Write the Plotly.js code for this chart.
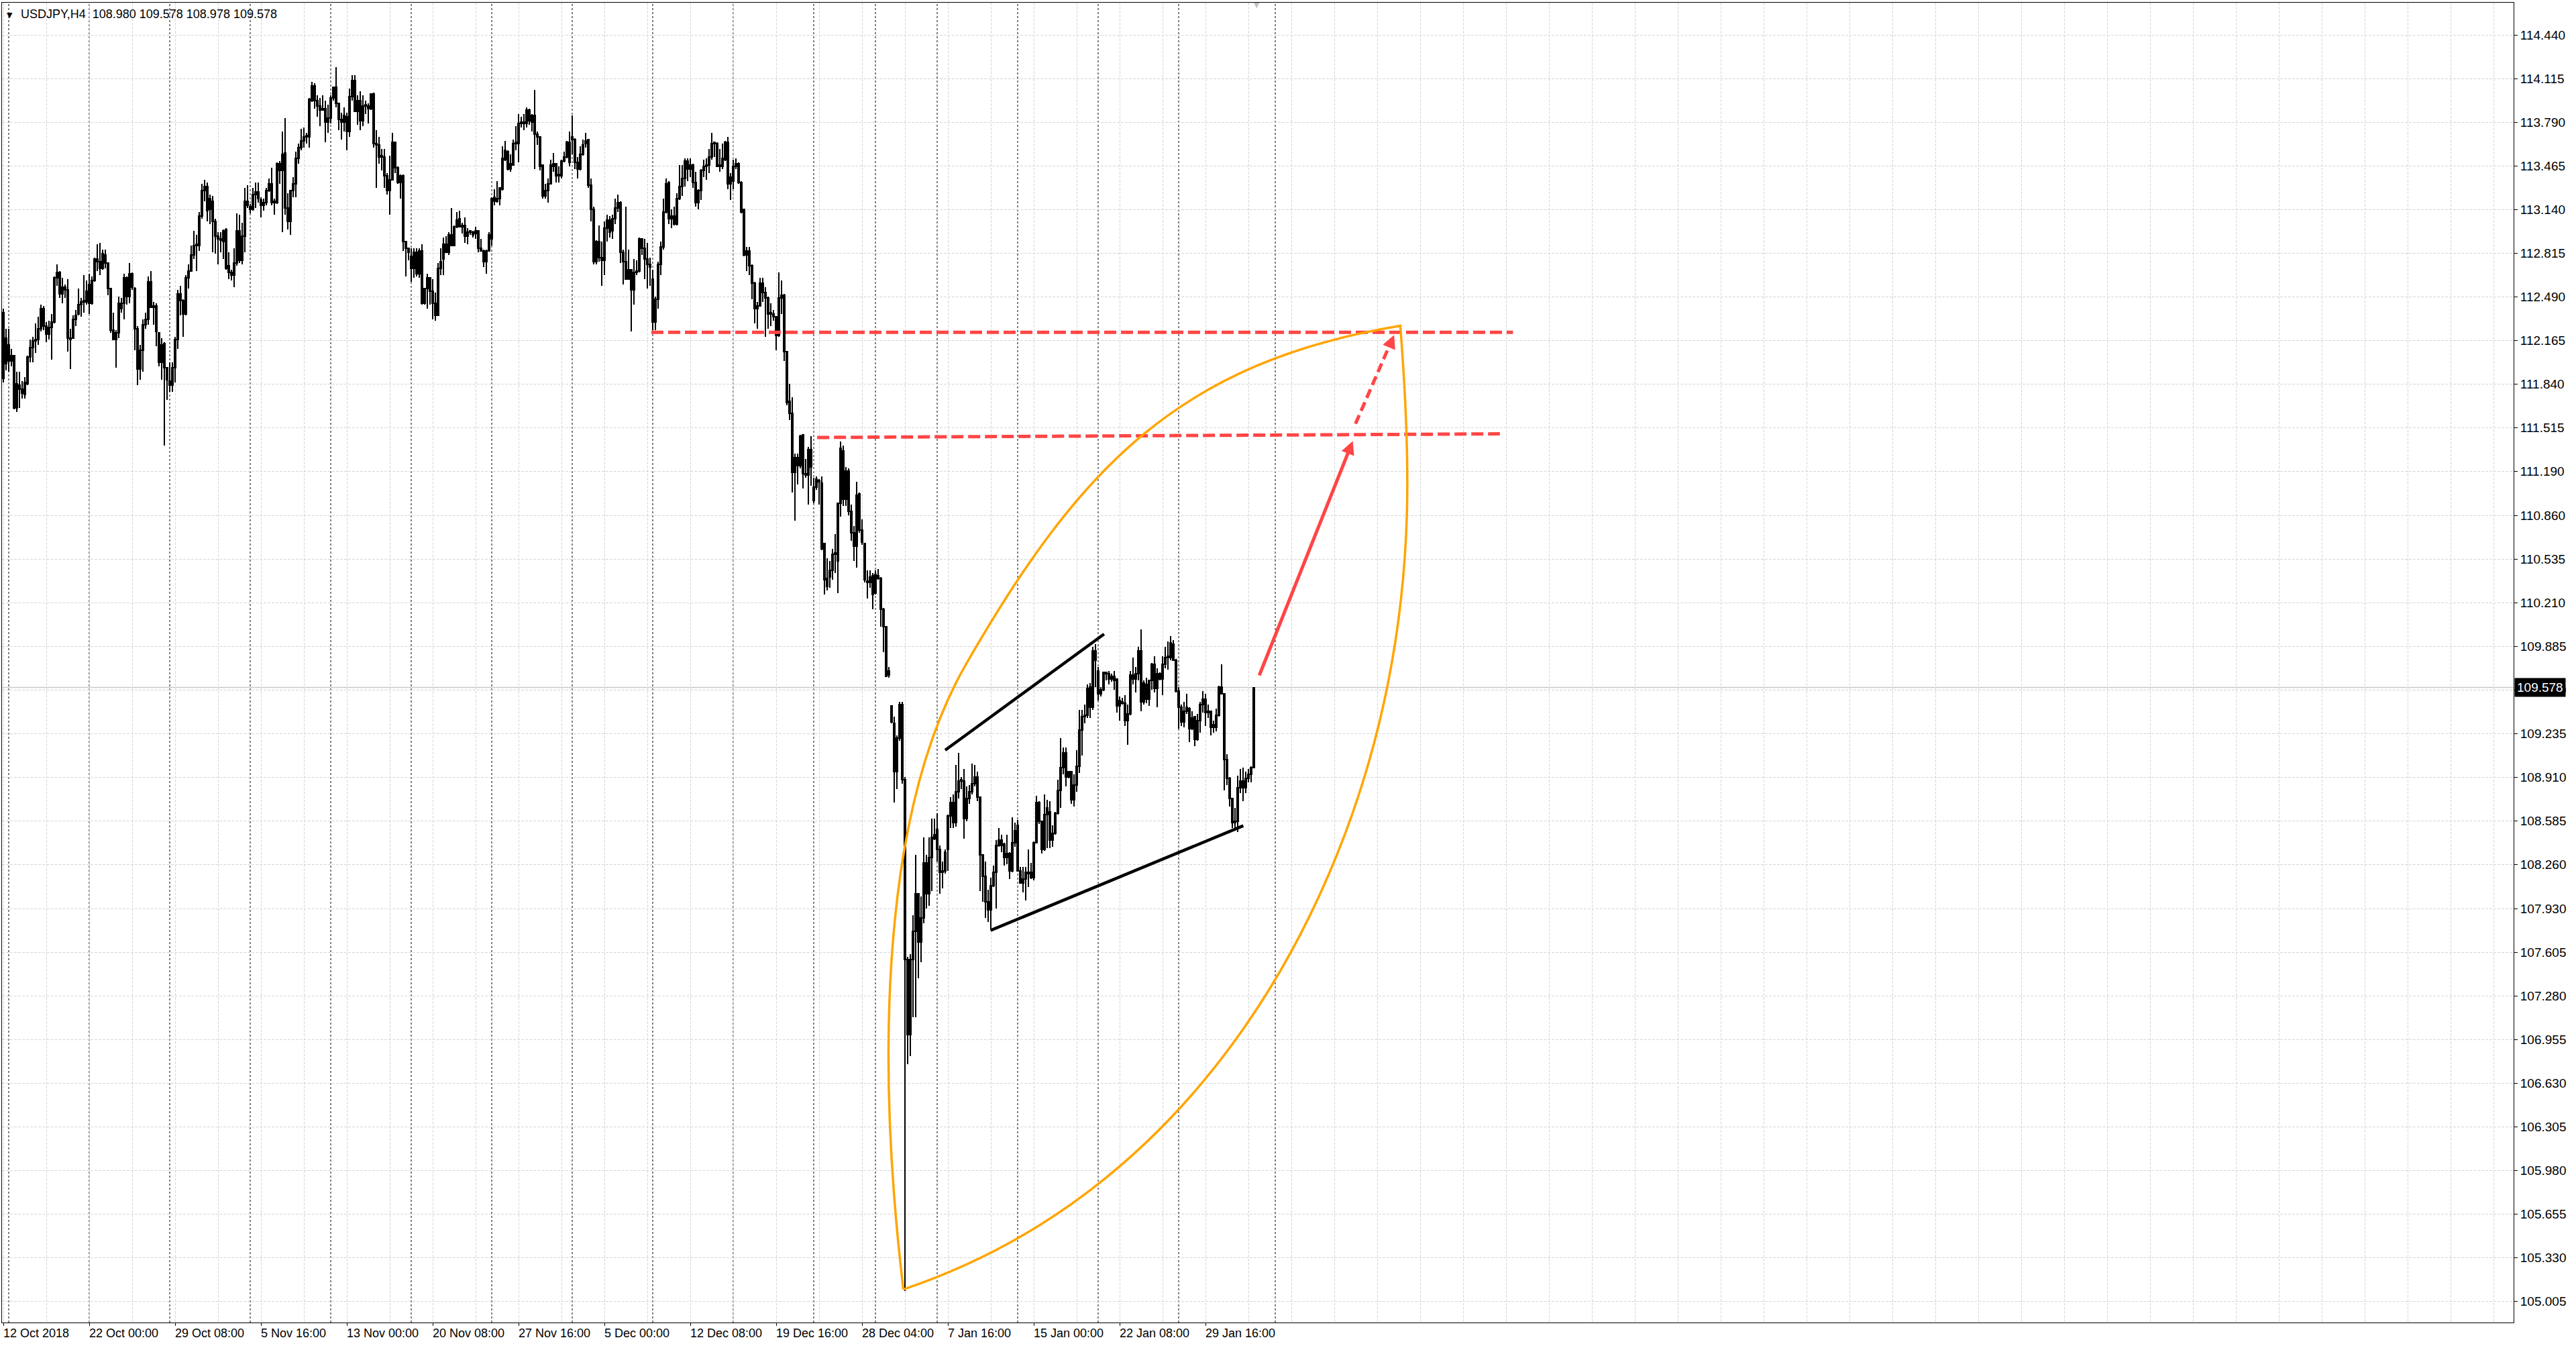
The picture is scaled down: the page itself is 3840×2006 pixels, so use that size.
<!DOCTYPE html>
<html>
<head>
<meta charset="utf-8">
<title>USDJPY,H4</title>
<script src="https://cdn.plot.ly/plotly-3.0.1.min.js"></script>
<style>
  html, body { margin: 0; padding: 0; background: #fff; }
  #chart { width: 3840px; height: 2006px; }
  /* MT4 draws 1px lines without anti-aliasing */
  #chart .boxlayer path, #chart .gridlayer path, #chart .layer-between path { shape-rendering: crispEdges; }
</style>
</head>
<body>
<div id="chart"></div>
<script>
// USDJPY H4 bars, 12 Oct 2018 16:00 -> 1 Feb 2019 20:00 (bar index 0..466)
const opens = [
  112.37,111.99,112.13,112.01,112.05,111.66,111.83,111.80,111.76,111.84,
  112.04,112.11,112.16,112.17,112.25,112.40,112.27,112.21,112.26,112.30,
  112.63,112.67,112.51,112.56,112.54,112.18,112.18,112.32,112.36,112.43,
  112.45,112.45,112.58,112.44,112.61,112.77,112.75,112.70,112.80,112.74,
  112.55,112.24,112.17,112.22,112.40,112.44,112.63,112.49,112.66,112.55,
  112.25,111.95,112.09,112.28,112.32,112.60,112.42,112.42,112.22,112.00,
  112.14,111.96,111.86,111.83,111.96,112.17,112.51,112.46,112.36,112.63,
  112.68,112.80,112.88,112.87,113.09,113.28,113.31,113.22,113.20,113.05,
  112.94,112.92,112.90,112.99,112.72,112.67,112.65,112.74,112.98,112.76,
  112.94,113.20,113.16,113.14,113.25,113.27,113.21,113.17,113.19,113.28,
  113.33,113.19,113.19,113.48,113.43,113.56,113.15,113.05,113.28,113.33,
  113.52,113.60,113.65,113.68,113.68,113.95,114.06,113.95,113.91,113.89,
  113.89,113.79,113.82,113.97,114.05,113.93,113.81,113.79,113.83,113.72,
  113.98,114.10,113.87,113.95,113.80,113.91,113.91,113.89,114.00,113.63,
  113.62,113.54,113.53,113.39,113.28,113.36,113.64,113.45,113.34,113.39,
  112.90,112.85,112.79,112.70,112.82,112.66,112.83,112.44,112.55,112.63,
  112.53,112.44,112.35,112.70,112.77,112.88,112.82,112.95,112.87,113.01,
  113.07,113.02,113.02,112.94,112.97,112.97,112.96,112.98,112.85,112.83,
  112.75,112.83,112.92,113.23,113.20,113.22,113.29,113.51,113.57,113.44,
  113.47,113.63,113.63,113.78,113.78,113.78,113.88,113.79,113.84,113.70,
  113.68,113.47,113.24,113.28,113.33,113.46,113.48,113.40,113.39,113.50,
  113.53,113.64,113.68,113.66,113.49,113.44,113.55,113.63,113.66,113.32,
  113.14,112.75,112.90,112.78,112.76,113.00,113.06,112.98,113.07,113.15,
  113.19,112.82,112.75,112.62,112.69,112.54,112.67,112.68,112.92,112.85,
  112.77,112.73,112.62,112.30,112.47,112.73,112.86,113.12,113.34,113.07,
  113.09,113.03,113.22,113.31,113.37,113.50,113.44,113.47,113.34,113.19,
  113.28,113.43,113.46,113.47,113.53,113.63,113.63,113.47,113.46,113.51,
  113.64,113.33,113.35,113.46,113.48,113.34,113.14,112.80,112.83,112.72,
  112.59,112.40,112.42,112.59,112.52,112.48,112.37,112.36,112.34,112.20,
  112.48,112.50,112.08,111.71,111.62,111.18,111.29,111.23,111.46,111.17,
  111.16,111.35,110.97,111.07,111.12,111.10,110.65,110.39,110.40,110.45,
  110.57,110.52,110.95,111.34,110.98,111.19,110.89,110.73,110.63,111.02,
  110.75,110.65,110.37,110.36,110.41,110.28,110.41,110.39,110.16,110.03,
  109.67,109.44,109.31,108.95,109.20,109.45,108.89,107.55,106.99,107.55,
  107.76,108.04,107.68,107.86,108.27,108.04,108.31,108.45,108.52,108.37,
  108.21,108.21,108.37,108.62,108.72,108.57,108.80,108.88,108.88,108.60,
  108.75,108.80,108.86,108.91,108.76,108.33,108.17,107.98,107.92,108.10,
  108.20,108.40,108.44,108.41,108.31,108.34,108.21,108.42,108.55,108.21,
  108.12,108.15,108.20,108.20,108.16,108.42,108.72,108.58,108.37,108.63,
  108.65,108.44,108.49,108.64,108.81,108.98,109.09,108.95,108.95,108.74,
  108.85,108.99,109.26,109.36,109.37,109.58,109.43,109.85,109.70,109.53,
  109.56,109.69,109.68,109.64,109.66,109.64,109.44,109.47,109.46,109.33,
  109.38,109.67,109.64,109.68,109.85,109.47,109.60,109.49,109.63,109.75,
  109.57,109.68,109.64,109.75,109.80,109.80,109.90,109.78,109.55,109.43,
  109.32,109.40,109.42,109.27,109.36,109.19,109.33,109.45,109.49,109.39,
  109.40,109.30,109.28,109.37,109.58,109.53,109.04,108.90,108.75,108.57,
  108.58,108.83,108.88,108.83,108.90,108.93,108.980
];
const highs = [
  112.40,112.25,112.25,112.10,112.05,111.93,111.93,111.86,111.89,112.05,
  112.17,112.19,112.29,112.34,112.43,112.42,112.30,112.31,112.36,112.64,
  112.73,112.68,112.63,112.58,112.62,112.25,112.35,112.39,112.55,112.48,
  112.65,112.61,112.66,112.64,112.78,112.88,112.89,112.84,112.84,112.74,
  112.55,112.37,112.24,112.49,112.48,112.66,112.64,112.74,112.67,112.56,
  112.27,112.13,112.32,112.37,112.64,112.68,112.45,112.44,112.22,112.18,
  112.15,111.96,112.00,112.00,112.19,112.54,112.57,112.47,112.65,112.73,
  112.87,112.98,112.95,113.12,113.33,113.36,113.34,113.25,113.24,113.07,
  112.97,112.97,112.99,113.00,112.82,112.69,112.85,113.11,113.10,113.04,
  113.30,113.32,113.18,113.30,113.34,113.34,113.23,113.22,113.30,113.37,
  113.45,113.22,113.49,113.50,113.72,113.82,113.26,113.28,113.38,113.57,
  113.63,113.74,113.75,113.71,113.97,114.09,114.08,113.99,113.97,113.99,
  113.95,113.92,113.99,114.05,114.20,113.93,113.86,113.90,113.86,114.04,
  114.14,114.14,113.99,114.02,113.99,113.95,113.93,114.00,114.01,113.73,
  113.68,113.59,113.59,113.41,113.54,113.71,113.64,113.46,113.40,113.40,
  112.90,112.85,112.85,112.85,112.85,112.85,112.88,112.55,112.66,112.63,
  112.62,112.52,112.74,112.85,112.93,112.94,112.97,113.15,113.02,113.12,
  113.13,113.04,113.08,113.00,112.98,112.98,113.01,112.98,112.92,112.84,
  112.84,112.97,113.23,113.29,113.35,113.30,113.61,113.65,113.58,113.55,
  113.66,113.76,113.85,113.83,113.85,113.90,113.89,113.85,114.03,113.72,
  113.68,113.47,113.33,113.37,113.51,113.56,113.48,113.46,113.51,113.57,
  113.65,113.72,113.84,113.67,113.53,113.61,113.66,113.71,113.66,113.37,
  113.16,112.91,113.02,112.90,113.05,113.10,113.09,113.10,113.22,113.25,
  113.20,112.84,113.16,112.84,112.69,112.77,112.76,112.93,112.92,112.92,
  112.89,112.78,112.69,112.49,112.75,112.90,113.22,113.37,113.35,113.14,
  113.16,113.26,113.47,113.47,113.52,113.52,113.52,113.48,113.42,113.29,
  113.44,113.51,113.52,113.59,113.71,113.64,113.64,113.59,113.63,113.65,
  113.68,113.41,113.51,113.52,113.49,113.35,113.14,112.86,112.86,112.73,
  112.60,112.45,112.63,112.63,112.56,112.49,112.44,112.39,112.34,112.67,
  112.61,112.51,112.08,111.84,111.74,111.32,111.32,111.46,111.46,111.28,
  111.37,111.45,111.14,111.15,111.13,111.15,110.65,110.54,110.52,110.61,
  110.72,110.95,111.41,111.38,111.22,111.21,110.94,110.78,111.11,111.03,
  110.83,110.65,110.45,110.45,110.43,110.45,110.46,110.40,110.17,110.03,
  109.73,109.44,109.36,109.22,109.47,109.47,108.91,107.57,107.59,107.88,
  108.33,108.04,108.02,108.46,108.33,108.46,108.60,108.60,108.64,108.40,
  108.28,108.37,108.63,108.76,108.78,109.00,109.09,108.91,108.97,108.84,
  108.85,109.01,109.00,108.95,108.76,108.33,108.28,108.07,108.16,108.25,
  108.44,108.53,108.48,108.42,108.48,108.35,108.61,108.57,108.59,108.24,
  108.24,108.24,108.37,108.27,108.43,108.77,108.73,108.58,108.78,108.74,
  108.73,108.55,108.65,108.89,109.20,109.13,109.13,108.95,108.95,108.93,
  109.11,109.41,109.41,109.45,109.60,109.61,109.88,109.90,109.73,109.58,
  109.69,109.69,109.70,109.68,109.70,109.64,109.51,109.50,109.52,109.45,
  109.70,109.80,109.73,109.88,110.01,109.63,109.65,109.63,109.76,109.81,
  109.72,109.69,109.81,109.88,109.92,109.96,109.93,109.79,109.58,109.45,
  109.47,109.53,109.43,109.40,109.36,109.38,109.47,109.55,109.53,109.45,
  109.40,109.33,109.42,109.59,109.75,109.53,109.08,108.91,108.75,108.68,
  108.92,108.97,108.98,108.95,108.97,108.99,109.578
];
const lows = [
  111.85,111.94,111.93,111.97,111.65,111.63,111.66,111.73,111.73,111.83,
  112.00,112.00,112.07,112.13,112.23,112.24,112.15,112.17,112.02,112.29,
  112.57,112.48,112.44,112.48,112.08,111.95,112.18,112.27,112.35,112.34,
  112.37,112.43,112.36,112.43,112.60,112.68,112.65,112.69,112.70,112.50,
  112.22,112.17,111.96,112.18,112.37,112.32,112.43,112.44,112.54,112.09,
  111.83,111.87,111.93,112.25,112.28,112.41,112.28,112.12,111.97,111.87,
  111.38,111.72,111.78,111.78,111.85,112.10,112.35,112.19,112.35,112.55,
  112.68,112.77,112.68,112.83,113.07,113.20,113.05,113.03,112.82,112.81,
  112.73,112.82,112.77,112.69,112.62,112.61,112.56,112.72,112.74,112.73,
  112.82,113.15,113.11,113.13,113.15,113.19,113.08,113.13,113.17,113.27,
  113.17,113.10,113.18,113.33,112.97,113.10,112.99,112.95,113.23,113.23,
  113.48,113.58,113.60,113.63,113.60,113.94,113.89,113.83,113.76,113.88,
  113.64,113.71,113.78,113.95,113.90,113.73,113.66,113.72,113.58,113.68,
  113.95,113.87,113.77,113.73,113.76,113.85,113.78,113.88,113.60,113.30,
  113.48,113.43,113.30,113.25,113.10,113.36,113.41,113.33,113.22,112.83,
  112.64,112.76,112.60,112.63,112.64,112.63,112.43,112.43,112.40,112.43,
  112.32,112.31,112.35,112.65,112.65,112.82,112.80,112.87,112.87,113.00,
  113.01,112.96,112.89,112.88,112.95,112.93,112.92,112.82,112.83,112.71,
  112.66,112.83,112.87,113.17,113.19,113.17,113.28,113.50,113.43,113.42,
  113.47,113.58,113.49,113.75,113.73,113.75,113.77,113.72,113.44,113.62,
  113.43,113.22,113.22,113.19,113.33,113.42,113.34,113.34,113.37,113.49,
  113.52,113.46,113.55,113.44,113.37,113.43,113.54,113.60,113.30,113.05,
  112.73,112.73,112.75,112.57,112.65,112.90,112.93,112.92,113.03,113.12,
  112.74,112.58,112.62,112.62,112.23,112.43,112.65,112.67,112.80,112.62,
  112.55,112.57,112.24,112.24,112.40,112.65,112.84,113.11,113.03,113.00,
  113.02,113.02,113.21,113.24,113.31,113.35,113.38,113.30,113.16,113.14,
  113.21,113.38,113.36,113.41,113.51,113.53,113.46,113.42,113.44,113.50,
  113.29,113.21,113.29,113.44,113.33,113.11,112.79,112.68,112.65,112.47,
  112.29,112.25,112.42,112.45,112.19,112.25,112.27,112.31,112.09,112.19,
  112.36,112.01,111.68,111.57,111.03,110.82,111.09,111.21,111.06,111.14,
  110.94,111.08,110.95,111.05,110.94,110.60,110.27,110.30,110.32,110.38,
  110.43,110.28,110.85,110.93,110.93,110.86,110.67,110.52,110.47,110.73,
  110.64,110.36,110.24,110.32,110.16,110.27,110.38,110.03,109.84,109.66,
  109.65,109.31,108.72,108.82,109.18,108.86,105.08,106.77,106.83,107.12,
  107.12,107.41,107.53,107.82,107.93,107.95,108.06,108.44,108.28,108.04,
  108.08,108.19,108.21,108.53,108.53,108.54,108.75,108.82,108.45,108.58,
  108.71,108.78,108.84,108.73,108.06,107.98,107.86,107.83,107.77,108.09,
  107.93,108.39,108.35,108.25,108.26,108.15,108.20,108.39,108.21,108.12,
  108.05,107.99,108.09,108.15,108.14,108.42,108.56,108.34,108.36,108.38,
  108.38,108.39,108.48,108.63,108.68,108.93,108.84,108.90,108.71,108.69,
  108.80,108.94,109.07,109.31,109.35,109.35,109.41,109.58,109.48,109.51,
  109.55,109.63,109.60,109.62,109.56,109.39,109.33,109.45,109.29,109.15,
  109.37,109.60,109.54,109.63,109.40,109.45,109.46,109.44,109.56,109.54,
  109.43,109.63,109.52,109.72,109.71,109.78,109.78,109.54,109.27,109.29,
  109.28,109.38,109.17,109.26,109.14,109.18,109.24,109.39,109.29,109.35,
  109.22,109.24,109.25,109.36,109.53,108.81,108.85,108.69,108.53,108.53,
  108.50,108.79,108.73,108.79,108.87,108.87,108.978
];
const closes = [
  111.88,112.18,112.01,112.05,111.66,111.84,111.80,111.77,111.85,112.04,
  112.11,112.16,112.17,112.25,112.40,112.27,112.21,112.26,112.30,112.63,
  112.67,112.51,112.56,112.54,112.18,112.17,112.32,112.35,112.43,112.45,
  112.46,112.53,112.44,112.61,112.77,112.75,112.70,112.81,112.74,112.55,
  112.24,112.17,112.22,112.44,112.44,112.63,112.49,112.66,112.56,112.25,
  111.95,112.09,112.28,112.32,112.60,112.41,112.41,112.23,112.00,112.13,
  111.96,111.87,111.83,111.96,112.17,112.51,112.46,112.36,112.63,112.68,
  112.80,112.87,112.87,113.09,113.28,113.31,113.13,113.14,113.05,112.94,
  112.92,112.91,112.98,112.70,112.67,112.65,112.74,112.98,112.76,112.94,
  113.20,113.17,113.14,113.25,113.27,113.22,113.17,113.19,113.28,113.33,
  113.19,113.20,113.48,113.43,113.55,113.15,113.05,113.28,113.33,113.52,
  113.60,113.65,113.68,113.69,113.96,114.06,113.95,113.91,113.88,113.88,
  113.79,113.82,113.97,114.05,113.93,113.81,113.79,113.84,113.72,113.98,
  114.10,113.87,113.95,113.80,113.91,113.92,113.89,114.00,113.63,113.62,
  113.53,113.53,113.39,113.28,113.36,113.64,113.45,113.34,113.39,112.90,
  112.85,112.82,112.70,112.82,112.66,112.83,112.44,112.55,112.63,112.53,
  112.44,112.35,112.70,112.75,112.88,112.82,112.95,112.87,113.01,113.06,
  113.01,113.01,112.94,112.97,112.98,112.95,112.98,112.85,112.83,112.75,
  112.83,112.95,113.22,113.20,113.22,113.30,113.52,113.58,113.44,113.48,
  113.63,113.64,113.78,113.79,113.79,113.88,113.80,113.84,113.70,113.68,
  113.46,113.24,113.28,113.33,113.47,113.48,113.39,113.39,113.50,113.53,
  113.64,113.49,113.66,113.49,113.44,113.55,113.62,113.65,113.32,113.14,
  112.75,112.90,112.78,112.76,113.00,113.06,112.97,113.07,113.15,113.19,
  112.82,112.75,112.62,112.69,112.54,112.67,112.68,112.92,112.85,112.77,
  112.73,112.71,112.30,112.47,112.73,112.86,113.12,113.33,113.07,113.09,
  113.03,113.22,113.31,113.37,113.50,113.44,113.47,113.34,113.19,113.28,
  113.43,113.46,113.47,113.53,113.63,113.64,113.46,113.46,113.52,113.64,
  113.33,113.38,113.46,113.48,113.34,113.12,112.80,112.83,112.72,112.59,
  112.40,112.42,112.59,112.52,112.48,112.36,112.36,112.34,112.20,112.48,
  112.50,112.08,111.70,111.62,111.18,111.29,111.23,111.45,111.17,111.16,
  111.35,111.22,111.07,111.13,111.11,110.61,110.38,110.33,110.45,110.57,
  110.58,110.95,111.36,110.98,111.19,110.89,110.73,110.63,111.01,110.75,
  110.66,110.38,110.36,110.40,110.27,110.42,110.39,110.16,110.03,109.66,
  109.70,109.32,108.95,109.20,109.45,108.89,107.55,106.99,107.55,107.76,
  108.04,107.68,107.86,108.27,108.04,108.31,108.46,108.48,108.37,108.20,
  108.20,108.35,108.62,108.72,108.57,108.80,108.88,108.89,108.60,108.75,
  108.80,108.86,108.91,108.76,108.33,108.17,107.98,107.92,108.10,108.20,
  108.40,108.44,108.40,108.31,108.34,108.21,108.42,108.51,108.21,108.12,
  108.15,108.20,108.19,108.16,108.42,108.72,108.58,108.37,108.63,108.68,
  108.44,108.49,108.64,108.81,108.98,109.09,108.91,108.91,108.74,108.85,
  108.99,109.26,109.36,109.37,109.57,109.43,109.85,109.78,109.53,109.56,
  109.69,109.68,109.64,109.66,109.63,109.44,109.48,109.46,109.33,109.38,
  109.67,109.64,109.68,109.85,109.47,109.61,109.49,109.63,109.75,109.57,
  109.68,109.64,109.75,109.80,109.81,109.91,109.78,109.55,109.43,109.32,
  109.40,109.43,109.27,109.35,109.19,109.33,109.45,109.49,109.39,109.40,
  109.28,109.28,109.37,109.58,109.53,109.04,108.90,108.75,108.57,108.58,
  108.83,108.88,108.83,108.90,108.93,108.98,109.578
];

// time axis labels (bar index -> text)
const labelBars = [0, 32, 64, 96, 128, 160, 192, 224, 256, 288, 320, 352, 384, 416, 448];
const labelTexts = ['12 Oct 2018', '22 Oct 00:00', '29 Oct 08:00', '5 Nov 16:00', '13 Nov 00:00',
  '20 Nov 08:00', '27 Nov 16:00', '5 Dec 00:00', '12 Dec 08:00', '19 Dec 16:00',
  '28 Dec 04:00', '7 Jan 16:00', '15 Jan 00:00', '22 Jan 08:00', '29 Jan 16:00'];
// week separators (bar index of Monday 00:00)
const weekStarts = [2, 32, 62, 92, 122, 152, 182, 212, 242, 272, 302, 325, 348, 378, 408, 438, 474];
// price scale labels
const priceTicks = [105.005, 105.330, 105.655, 105.980, 106.305, 106.630, 106.955, 107.280, 107.605,
  107.930, 108.260, 108.585, 108.910, 109.235, 109.560, 109.885, 110.210, 110.535, 110.860,
  111.190, 111.515, 111.840, 112.165, 112.490, 112.815, 113.140, 113.465, 113.790, 114.115, 114.440];

const FONT = 'Liberation Sans, Arial, sans-serif';
const GRID = '#d6d6d6';
const RED = '#ff4545';
const last = closes.length - 1;
const idx = opens.map((_, i) => i);

// Candles
const candles = {
  type: 'candlestick', x: idx, open: opens, high: highs, low: lows, close: closes,
  increasing: { line: { color: '#000', width: 1.5 }, fillcolor: '#fff' },
  decreasing: { line: { color: '#000', width: 1.5 }, fillcolor: '#000' },
  whiskerwidth: 0, hoverinfo: 'skip', showlegend: false
};

// Drawn objects (bar index, price)
const shapes = [];
weekStarts.forEach(b => shapes.push({
  type: 'line', xref: 'x', yref: 'paper', x0: b, x1: b, y0: 0, y1: 1,
  line: { color: '#000', width: 1, dash: '3px,3px' }, layer: 'between'
}));
// bid line
shapes.push({ type: 'line', xref: 'paper', yref: 'y', x0: 0, x1: 1, y0: closes[last], y1: closes[last],
  line: { color: '#c8c8c8', width: 1.5 }, layer: 'between' });
// resistance levels
shapes.push({ type: 'line', x0: 241.5, x1: 562.6, y0: 112.224, y1: 112.224,
  line: { color: RED, width: 5, dash: '18px,7px' } });
shapes.push({ type: 'line', x0: 303.3, x1: 557.7, y0: 111.44, y1: 111.467,
  line: { color: RED, width: 5, dash: '18px,7px' } });
// wedge lines
shapes.push({ type: 'line', x0: 351, x1: 410.2, y0: 109.11, y1: 109.975, line: { color: '#000', width: 4.5 } });
shapes.push({ type: 'line', x0: 367.9, x1: 462.1, y0: 107.767, y1: 108.547, line: { color: '#000', width: 4.5 } });
// orange leaf
shapes.push({ type: 'path', xref: 'x', yref: 'y',
  path: 'M335.4,105.092 C325,106.84 327.5,108.665 358.75,109.75 C401.25,111.23 438.75,112.0 520.6,112.273 ' +
        'C524.5,111.275 525.25,110.44 514.5,109.465 C496.25,107.80 442.25,105.81 335.4,105.092',
  line: { color: '#ffa500', width: 3.5 }, fillcolor: 'rgba(0,0,0,0)' });
// dashed projection shaft
shapes.push({ type: 'line', x0: 503.9, x1: 517.3, y0: 111.542, y1: 112.159,
  line: { color: RED, width: 5, dash: '14px,7px' } });

const annotations = [];
labelBars.forEach((b, k) => annotations.push({
  x: b, xref: 'x', y: 0, yref: 'paper', yanchor: 'top', xanchor: 'left', yshift: -4, xshift: -2,
  text: labelTexts[k], showarrow: false, font: { family: FONT, size: 18, color: '#000' }
}));
// header
annotations.push({ x: 0, xref: 'paper', y: 1, yref: 'paper', xanchor: 'left', yanchor: 'top', xshift: 5, yshift: -10,
  text: '▼', showarrow: false, font: { family: 'DejaVu Sans', size: 11, color: '#000' } });
annotations.push({ x: 0, xref: 'paper', y: 1, yref: 'paper', xanchor: 'left', yanchor: 'top', xshift: 26, yshift: -5,
  text: 'USDJPY,H4  ' + [opens[last], highs[last], lows[last], closes[last]].map(v => v.toFixed(3)).join(' '),
  showarrow: false, font: { family: FONT, size: 18, color: '#000' } });
// current price box
annotations.push({ x: 1, xref: 'paper', y: closes[last], yref: 'y', xanchor: 'left', yanchor: 'middle', xshift: 1,
  text: closes[last].toFixed(3), showarrow: false, bgcolor: '#000', borderpad: 3,
  font: { family: FONT, size: 19, color: '#fff' } });
// chart shift marker
annotations.push({ x: last + 1, xref: 'x', y: 1, yref: 'paper', yanchor: 'bottom', yshift: -12,
  text: '▼', showarrow: false, font: { family: 'DejaVu Sans', size: 11, color: '#c0c0c0' } });
// red arrows
annotations.push({ x: 502.9, y: 111.414, ax: 467.9, ay: 109.66, xref: 'x', yref: 'y', axref: 'x', ayref: 'y',
  text: '', showarrow: true, arrowhead: 2, arrowsize: 0.8, arrowwidth: 5, arrowcolor: RED });
annotations.push({ x: 518.3, y: 112.204, ax: -5, ay: 12, xref: 'x', yref: 'y',
  text: '', showarrow: true, arrowhead: 2, arrowsize: 0.8, arrowwidth: 5, arrowcolor: RED });

const layout = {
  width: 3840, height: 2006,
  margin: { l: 3, r: 93, t: 4, b: 35 },
  paper_bgcolor: '#fff', plot_bgcolor: '#fff',
  showlegend: false,
  boxgap: 0.45,
  xaxis: {
    range: [-0.5, 935.5], tickmode: 'array', tickvals: labelBars, showticklabels: false,
    ticks: 'outside', ticklen: 4, tickcolor: '#000',
    showgrid: true, gridcolor: GRID, griddash: '4px,2px', gridwidth: 1,
    minor: { tick0: 0, dtick: 16, showgrid: true, gridcolor: GRID, griddash: '4px,2px', ticks: '' },
    showline: true, linecolor: '#000', linewidth: 1, mirror: true, zeroline: false,
    rangeslider: { visible: false }, fixedrange: true
  },
  yaxis: {
    side: 'right', range: [104.845, 114.68], tickmode: 'array', tickvals: priceTicks,
    ticktext: priceTicks.map(v => v.toFixed(3)),
    ticks: 'outside', ticklen: 5, tickcolor: '#000',
    tickfont: { family: FONT, size: 19, color: '#000' },
    showgrid: true, gridcolor: GRID, griddash: '4px,2px', gridwidth: 1,
    showline: true, linecolor: '#000', linewidth: 1, mirror: true, zeroline: false, fixedrange: true
  },
  shapes: shapes,
  annotations: annotations
};

Plotly.newPlot('chart', [candles], layout, { displayModeBar: false, staticPlot: true });
</script>
</body>
</html>
